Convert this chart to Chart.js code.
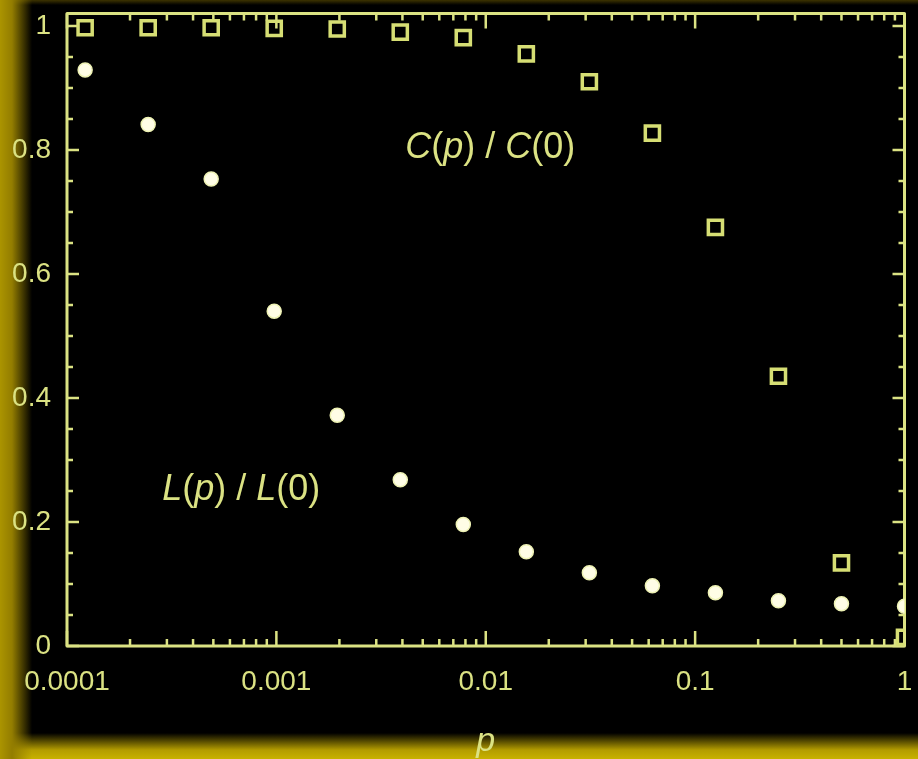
<!DOCTYPE html>
<html><head><meta charset="utf-8">
<script src="https://cdn.jsdelivr.net/npm/chart.js@4/dist/chart.umd.min.js"></script>
<style>
html,body{margin:0;padding:0;width:918px;height:759px;overflow:hidden;background:#000;}
#wrap{position:relative;width:918px;height:759px;
background:
 linear-gradient(to right, #ab9400 0px, #937d00 12px, rgba(0,0,0,0) 32px),
 linear-gradient(to top, #c8b200 0px, #b39c00 9px, rgba(0,0,0,0) 26px),
 linear-gradient(to bottom, #3d3300 0px, rgba(0,0,0,0) 5px),
 #000;}
canvas{display:block}
</style></head><body><div id="wrap"><canvas id="c" width="918" height="759"></canvas></div>
<script>
// ---- data ----
const pValues = [0.00012207, 0.00024414, 0.00048828, 0.00097656, 0.00195313, 0.00390625, 0.0078125, 0.015625, 0.03125, 0.0625, 0.125, 0.25, 0.5, 1];
const lRatio = [0.929, 0.841, 0.753, 0.540, 0.372, 0.268, 0.196, 0.152, 0.118, 0.097, 0.086, 0.073, 0.068, 0.064];
const cRatio = [0.997, 0.997, 0.997, 0.996, 0.995, 0.990, 0.981, 0.955, 0.910, 0.827, 0.675, 0.435, 0.134, 0.014];
const xTicks = [0.0001, 0.001, 0.01, 0.1, 1];
const xTickLabels = ['0.0001', '0.001', '0.01', '0.1', '1'];
const yTicks = [0, 0.2, 0.4, 0.6, 0.8, 1];
const yTickLabels = ['0', '0.2', '0.4', '0.6', '0.8', '1'];
const xTitle = 'p';
const cLabelParts = ['C', '(', 'p', ') / ', 'C', '(0)'];
const lLabelParts = ['L', '(', 'p', ') / ', 'L', '(0)'];
const partItalic = [true, false, true, false, true, false];
const cLabelAt = {x: 0.0105, y: 0.803};
const lLabelAt = {x: 0.00068, y: 0.251};

// ---- style ----
const FG = '#dbe283';
const TICKFONT = '"Liberation Sans", Arial, sans-serif';
const TEXTFONT = '"Liberation Sans", Arial, sans-serif';

const xMinor = [];
[0.0001, 0.001, 0.01, 0.1].forEach(d => { for (let m = 2; m <= 9; m++) xMinor.push(d * m); });
const yMinor = [];
for (let k = 1; k < 20; k++) { if (k % 4 !== 0) yMinor.push(k * 0.05); }

const framePlugin = {
  id: 'frame',
  beforeDatasetsDraw(chart) {
    const {ctx, chartArea: a, scales: {x, y}} = chart;
    ctx.save();
    ctx.strokeStyle = FG;
    ctx.lineWidth = 3;
    ctx.lineJoin = 'round';
    ctx.strokeRect(a.left, a.top, a.right - a.left, a.bottom - a.top);
    ctx.lineWidth = 2.5;
    ctx.beginPath();
    const xt = (v, len) => { const px = x.getPixelForValue(v);
      ctx.moveTo(px, a.bottom); ctx.lineTo(px, a.bottom - len);
      ctx.moveTo(px, a.top); ctx.lineTo(px, a.top + len); };
    const yt = (v, len) => { const py = y.getPixelForValue(v);
      ctx.moveTo(a.left, py); ctx.lineTo(a.left + len, py);
      ctx.moveTo(a.right, py); ctx.lineTo(a.right - len, py); };
    xTicks.forEach(v => xt(v, 15));
    xMinor.forEach(v => xt(v, 7));
    yTicks.forEach(v => yt(v, 12));
    yMinor.forEach(v => yt(v, 6));
    ctx.stroke();
    ctx.restore();
  },
  afterDatasetsDraw(chart) {
    const {ctx, scales: {x, y}} = chart;
    const drawLabel = (parts, at) => {
      ctx.save();
      ctx.fillStyle = FG;
      ctx.textBaseline = 'middle';
      const fonts = parts.map((p, i) => (partItalic[i] ? 'italic ' : '') + '36px ' + TEXTFONT);
      let total = 0;
      const widths = parts.map((p, i) => { ctx.font = fonts[i]; const w = ctx.measureText(p).width; total += w; return w; });
      let cx = x.getPixelForValue(at.x) - total / 2;
      const cy = y.getPixelForValue(at.y);
      parts.forEach((p, i) => { ctx.font = fonts[i]; ctx.fillText(p, cx, cy); cx += widths[i]; });
      ctx.restore();
    };
    drawLabel(cLabelParts, cLabelAt);
    drawLabel(lLabelParts, lLabelAt);
  }
};

new Chart(document.getElementById('c'), {
  type: 'scatter',
  data: {
    datasets: [
      {
        label: 'L(p)/L(0)',
        data: pValues.map((p, i) => ({x: p, y: lRatio[i]})),
        pointStyle: 'circle', pointRadius: 7, pointHoverRadius: 7,
        backgroundColor: '#fffde6', borderColor: '#eef2b4', borderWidth: 1.5,
        showLine: false
      },
      {
        label: 'C(p)/C(0)',
        data: pValues.map((p, i) => ({x: p, y: cRatio[i]})),
        pointStyle: 'rect', pointRadius: 10, pointHoverRadius: 10,
        backgroundColor: 'rgba(0,0,0,0)', borderColor: '#d6de74', borderWidth: 3.5,
        showLine: false
      }
    ]
  },
  options: {
    responsive: false,
    animation: false,
    events: [],
    layout: {padding: {top: 10, right: 12, left: 0, bottom: 0}},
    plugins: {legend: {display: false}, tooltip: {enabled: false}},
    scales: {
      x: {
        type: 'logarithmic', min: 0.0001, max: 1, position: 'bottom',
        grid: {display: false, drawTicks: false},
        border: {display: false},
        ticks: {
          color: FG, font: {family: TICKFONT, size: 28}, padding: 19,
          autoSkip: false, maxRotation: 0, minRotation: 0,
          callback: (v) => { const i = xTicks.indexOf(v); return i >= 0 ? xTickLabels[i] : ''; }
        },
        afterBuildTicks: s => { s.ticks = xTicks.map(v => ({value: v})); },
        afterFit: s => { s.height = 113; s.paddingLeft = 0; s.paddingRight = 0; },
        title: {display: true, text: xTitle, color: FG,
          font: {family: TEXTFONT, size: 34, style: 'italic', lineHeight: 1},
          padding: {top: 0, bottom: 0}}
      },
      y: {
        type: 'linear', min: 0, max: 1.02,
        grid: {display: false, drawTicks: false},
        border: {display: false},
        ticks: {
          color: FG, font: {family: TICKFONT, size: 28}, padding: 16,
          callback: (v) => { const i = yTicks.indexOf(v); return i >= 0 ? yTickLabels[i] : ''; }
        },
        afterBuildTicks: s => { s.ticks = yTicks.map(v => ({value: v})); },
        afterFit: s => { s.width = 67; s.paddingTop = 0; s.paddingBottom = 0; }
      }
    }
  },
  plugins: [framePlugin]
});
</script>
</body></html>
